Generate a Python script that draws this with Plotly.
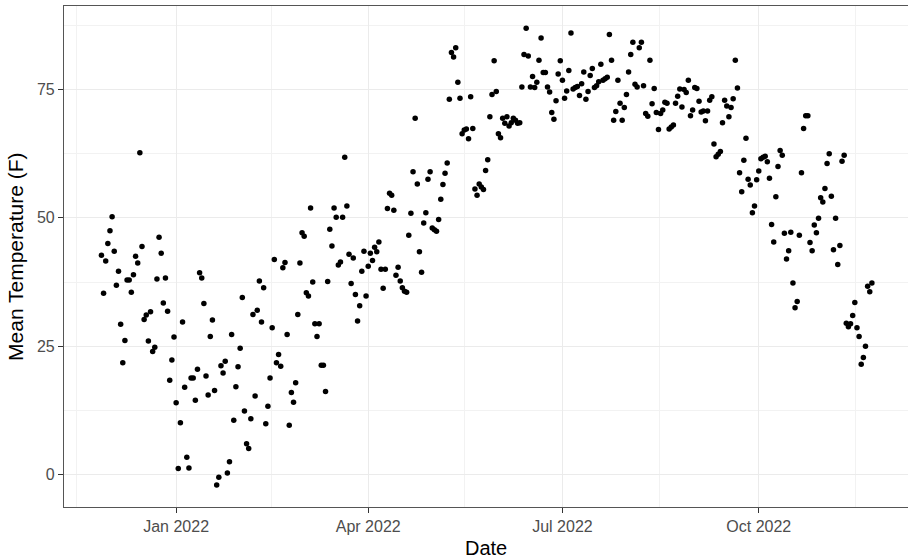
import pandas as pd
import plotly.graph_objects as go

# Daily mean temperature (F), one value per day starting 2021-11-27
start_date = "2021-11-27"
temp_f = [
    42.7, 35.3, 41.6, 45.0, 47.5, 50.2, 43.5, 36.9, 39.6, 29.3,
    21.8, 26.1, 37.9, 37.9, 35.5, 38.9, 42.5, 41.2, 62.7, 44.4,
    30.2, 31.1, 26.0, 31.7, 24.0, 24.8, 38.1, 46.2, 43.1, 33.4,
    38.3, 31.8, 18.4, 22.3, 26.8,
    # 2022-01-01
    14.0, 1.2, 10.1, 29.7, 17.0, 3.4, 1.3, 18.8, 18.8, 14.5,
    20.5, 39.3, 38.3, 33.3, 19.2, 15.5, 26.9, 30.1, 16.4, -2.0,
    -0.5, 21.2, 19.8, 22.1, 0.3, 2.5, 27.3, 10.6, 17.1, 21.0,
    24.6, 34.5, 12.4, 6.0, 5.1, 10.9, 31.2, 15.3, 32.0, 37.7,
    29.7, 36.4, 9.9, 13.3, 18.8, 28.6, 41.9, 21.8, 23.4, 21.1,
    40.3, 41.3, 27.3, 9.6, 16.0, 14.1, 17.9, 31.2, 41.2, 47.1,
    46.4, 35.4, 34.8, 51.9, 37.5, 29.4, 26.9, 29.4, 21.3, 21.3,
    16.2, 37.6, 47.8, 44.5, 51.9, 50.1, 40.8, 41.4, 50.1, 61.8,
    52.3, 42.9, 37.2, 42.2, 35.1, 29.9, 32.9, 39.6, 43.5, 34.8,
    40.6, 43.1, 41.7, 44.3, 43.4, 45.3, 40.0, 36.3, 40.0, 51.8,
    54.8, 54.4, 51.5, 38.8, 40.4, 37.7, 36.4, 35.7, 35.5, 46.6,
    50.9, 59.0, 69.4, 56.6, 43.4, 39.4, 49.0, 51.0, 57.5, 59.0,
    48.0, 47.7, 47.4, 49.7, 53.6, 56.5, 58.7, 60.7, 73.1, 82.2,
    81.3, 83.1, 76.4, 73.3, 66.4, 67.1, 67.3, 65.4, 73.6, 67.4,
    55.6, 54.4, 56.6, 56.0, 55.5, 59.2, 61.3, 69.7, 74.0, 80.6,
    74.6, 66.4, 65.6, 69.4, 68.4, 69.7, 67.9, 68.5, 69.4, 69.0,
    68.4, 68.5, 75.5, 81.8, 86.9, 81.5, 75.5, 77.5, 75.4, 76.4,
    80.7, 85.0, 78.3, 78.3, 75.5, 74.5, 70.5, 69.2, 72.8, 78.0,
    80.6, 76.8, 73.3, 74.7, 78.7, 86.0, 75.1, 75.4, 75.6, 73.8,
    76.1, 78.4, 73.1, 74.6, 77.7, 79.1, 75.4, 75.7, 76.5, 79.9,
    76.8, 77.1, 77.4, 85.7, 80.7, 69.0, 70.7, 76.8, 72.3, 69.0,
    71.5, 74.0, 78.4, 81.8, 84.2, 76.0, 75.5, 83.1, 84.2, 75.7,
    70.3, 69.8, 80.7, 72.2, 75.2, 70.5, 67.2, 70.3, 71.0, 72.5,
    72.3, 67.3, 67.7, 68.1, 72.3, 73.7, 75.1, 71.6, 75.0, 74.4,
    76.8, 69.9, 71.0, 75.4, 75.2, 72.7, 70.6, 70.8, 68.9, 70.8,
    72.9, 73.6, 64.4, 61.9, 62.4, 62.9, 68.5, 72.9, 71.8, 69.7,
    71.5, 73.2, 80.7, 75.3, 58.8, 55.1, 61.2, 65.5, 57.5, 56.4,
    51.0, 52.3, 57.4, 59.1, 61.5, 61.8, 62.0, 60.9, 57.7, 48.7,
    45.3, 54.1, 60.0, 63.1, 62.2, 47.0, 42.0, 43.6, 47.2, 37.3,
    32.5, 33.7, 46.6, 58.8, 67.4, 69.9, 69.9, 45.2, 43.6, 48.6,
    47.1, 49.9, 53.9, 53.1, 55.7, 60.6, 62.5, 54.2, 43.8, 49.9,
    40.9, 44.6, 61.0, 62.2, 29.5, 28.8, 29.4, 31.0, 33.5, 28.6,
    26.9, 21.5, 22.8, 25.0, 36.7, 35.6, 37.3,
]
dates = pd.date_range(start_date, periods=len(temp_f), freq="D")

x_tickvals = ["2022-01-01", "2022-04-01", "2022-07-01", "2022-10-01"]
x_ticktext = ["Jan 2022", "Apr 2022", "Jul 2022", "Oct 2022"]
x_minorvals = ["2021-11-15 12:00", "2022-02-14 12:00", "2022-05-16", "2022-08-15 12:00", "2022-11-15 12:00"]
y_tickvals = [0, 25, 50, 75]

fig = go.Figure(
    go.Scatter(
        x=dates, y=temp_f, mode="markers",
        marker=dict(color="black", size=5.5, line=dict(width=0)),
        hoverinfo="x+y",
    )
)

font_family = "Liberation Sans, Arial, sans-serif"
fig.update_layout(
    width=908, height=560,
    margin=dict(l=64, r=0, t=6, b=53, autoexpand=False),
    paper_bgcolor="white", plot_bgcolor="white",
    showlegend=False,
    font=dict(family=font_family, color="#4D4D4D"),
    annotations=[
        dict(text="Date", xref="paper", yref="paper", x=0.5, y=-0.082,
             xanchor="center", yanchor="middle", showarrow=False,
             font=dict(size=20, color="black")),
        dict(text="Mean Temperature (F)", xref="paper", yref="paper", x=-0.0575, y=0.5,
             xanchor="center", yanchor="middle", textangle=-90, showarrow=False,
             font=dict(size=21, color="black")),
    ],
)
fig.update_xaxes(
    range=["2021-11-09 11:00", "2022-12-09 22:00"],
    automargin=False,
    tickmode="array", tickvals=x_tickvals, ticktext=x_ticktext,
    ticks="outside", ticklen=5, tickwidth=1.1, tickcolor="#333333",
    tickfont=dict(size=16, color="#4D4D4D"),
    showgrid=True, gridcolor="#EBEBEB", gridwidth=1.2,
    minor=dict(tickmode="array", tickvals=x_minorvals, showgrid=True,
               gridcolor="#F2F2F2", gridwidth=0.8, ticklen=0),
    showline=True, linecolor="#555555", linewidth=1.1, mirror=True,
    zeroline=False,
)
fig.update_yaxes(
    range=[-6.3, 91.25],
    automargin=False,
    tickmode="array", tickvals=y_tickvals,
    ticks="outside", ticklen=5, tickwidth=1.1, tickcolor="#333333",
    tickfont=dict(size=16, color="#4D4D4D"),
    showgrid=True, gridcolor="#EBEBEB", gridwidth=1.2,
    minor=dict(dtick=12.5, tick0=0, showgrid=True,
               gridcolor="#F2F2F2", gridwidth=0.8, ticklen=0),
    showline=True, linecolor="#555555", linewidth=1.1, mirror=False,
    zeroline=False,
)

fig.write_html(
    "out.html",
    config={"displayModeBar": False},
    post_script="document.body.style.margin='0';document.body.style.overflow='hidden';",
)
